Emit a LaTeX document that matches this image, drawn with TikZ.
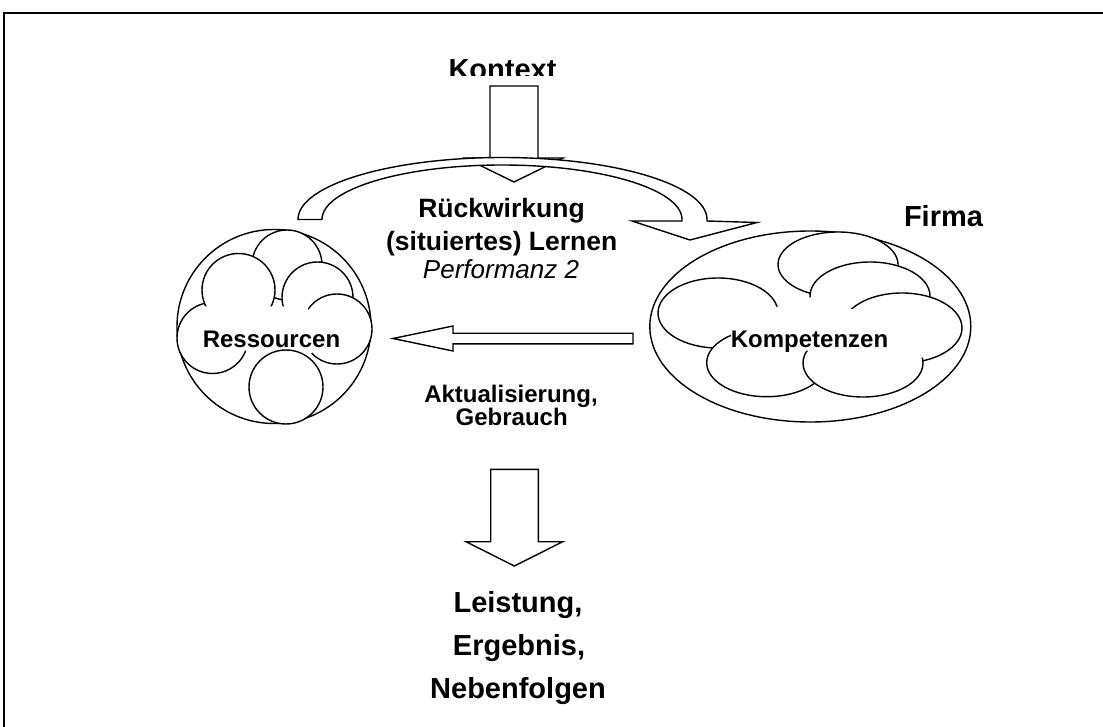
\documentclass[tikz,border=0pt]{standalone}
\usepackage{fontspec}
\setmainfont{Liberation Sans}
\begin{document}
\begin{tikzpicture}[x=1pt,y=-1pt,
  outline/.style={draw=black,line width=1.4pt,line join=miter},
  bubble/.style={outline,fill=white},
  blockarrow/.style={outline,fill=white},
  mask/.style={fill=white,draw=none},
  lbl/.style={inner sep=0pt,anchor=base,font=\bfseries\fontsize{24}{28}\selectfont},
  lblbig/.style={lbl,font=\bfseries\fontsize{29}{34}\selectfont},
  lblmid/.style={lbl,font=\bfseries\fontsize{26.5}{32}\selectfont}]
\useasboundingbox (0,0) rectangle (1103,727);

% frame (only top and left edges fall inside the page)
\draw[line width=2.2pt] (4,727) -- (4,13) -- (1103,13);

% ---------- Kontext arrow (behind the curved arrow) ----------
\draw[blockarrow] (490,86) -- (538,86) -- (538,158) -- (563,158) -- (514,182)
  -- (465,158) -- (490,158) -- cycle;
\begin{scope}
  \clip (380,40) rectangle (640,75.5);
  \node[lblbig] (kontext) at (502.5,79.5) {Kontext};
\end{scope}

% ---------- curved feedback arrow ----------
\draw[blockarrow] (298,219.5)
  arc[start angle=180,end angle=360,x radius=204.5,y radius=62]
  -- (707,221) -- (757,222.5) -- (690,240) -- (632,221) -- (682,221) -- (682,219.5)
  arc[start angle=0,end angle=-180,x radius=180,y radius=54.5]
  -- cycle;

\node[lblmid] (rueck) at (501.5,218) {Rückwirkung};
\node[lblmid] (lernen) at (501.7,251) {(situiertes) Lernen};
\node[lbl,font=\itshape\fontsize{26}{30}\selectfont] (perf) at (501,279) {Performanz 2};

% ---------- Ressourcen ----------
\draw[outline] (274,326.5) circle[radius=97];
\draw[bubble] (287,265) circle[radius=35];
\draw[bubble] (212.5,338) circle[radius=35.5];
\draw[bubble] (238.5,290) circle[radius=36.5];
\draw[bubble] (317.5,297.5) circle[radius=35.5];
\draw[bubble] (337,329) circle[radius=35];
\fill[mask] (205,306.5) -- (308,306.5) -- (311,340) -- (312,353) -- (249,353)
  -- (243.5,349) -- (242.5,329) -- (238.5,329.5) -- (220,325.5) -- (206,312) -- cycle;
\node[lbl] (res) at (271.5,347) {Ressourcen};
\draw[bubble] (286,387) circle[radius=37];

% ---------- Kompetenzen ----------
\draw[outline] (810.3,326.5) ellipse[x radius=160.5,y radius=95.5];
\draw[bubble] (838,264.5) ellipse[x radius=60,y radius=32.5];
\draw[bubble] (870,296) ellipse[x radius=60,y radius=34];
\draw[bubble] (902,328) ellipse[x radius=60,y radius=35];
\draw[bubble] (718,313) ellipse[x radius=60,y radius=35];
\draw[bubble] (766.7,362.7) ellipse[x radius=60,y radius=34];
\draw[bubble] (863,363) ellipse[x radius=60,y radius=34];
\fill[mask] (770,307) -- (806,307) -- (806,297.5) -- (816,297.5) -- (853,309.5)
  -- (870,315) -- (918,340) -- (924,357.5) -- (900,358) -- (850,352) -- (806,350.5)
  -- (790,344) -- (731,340) -- (731,331) -- cycle;
\node[lbl] (komp) at (809.5,347) {Kompetenzen};
\node[lblbig] (firma) at (943.5,227) {Firma};

% ---------- use arrow ----------
\draw[blockarrow] (633,333.2) -- (453,333.2) -- (453,326) -- (393,338.5) -- (453,351)
  -- (453,343.8) -- (633,343.8) -- cycle;
\node[lbl] (akt) at (511,402) {Aktualisierung,};
\node[lbl] (gebr) at (511.7,425.5) {Gebrauch};

% ---------- output arrow ----------
\draw[blockarrow] (490.7,469.3) -- (538.3,469.3) -- (538.3,541.7) -- (562.7,541.7)
  -- (514.3,566) -- (466,541.7) -- (490.7,541.7) -- cycle;
\node[lblbig] (leist) at (518,612.5) {Leistung,};
\node[lblbig] (ergeb) at (519,655.5) {Ergebnis,};
\node[lblbig] (neben) at (518,698.5) {Nebenfolgen};
\end{tikzpicture}
\end{document}
